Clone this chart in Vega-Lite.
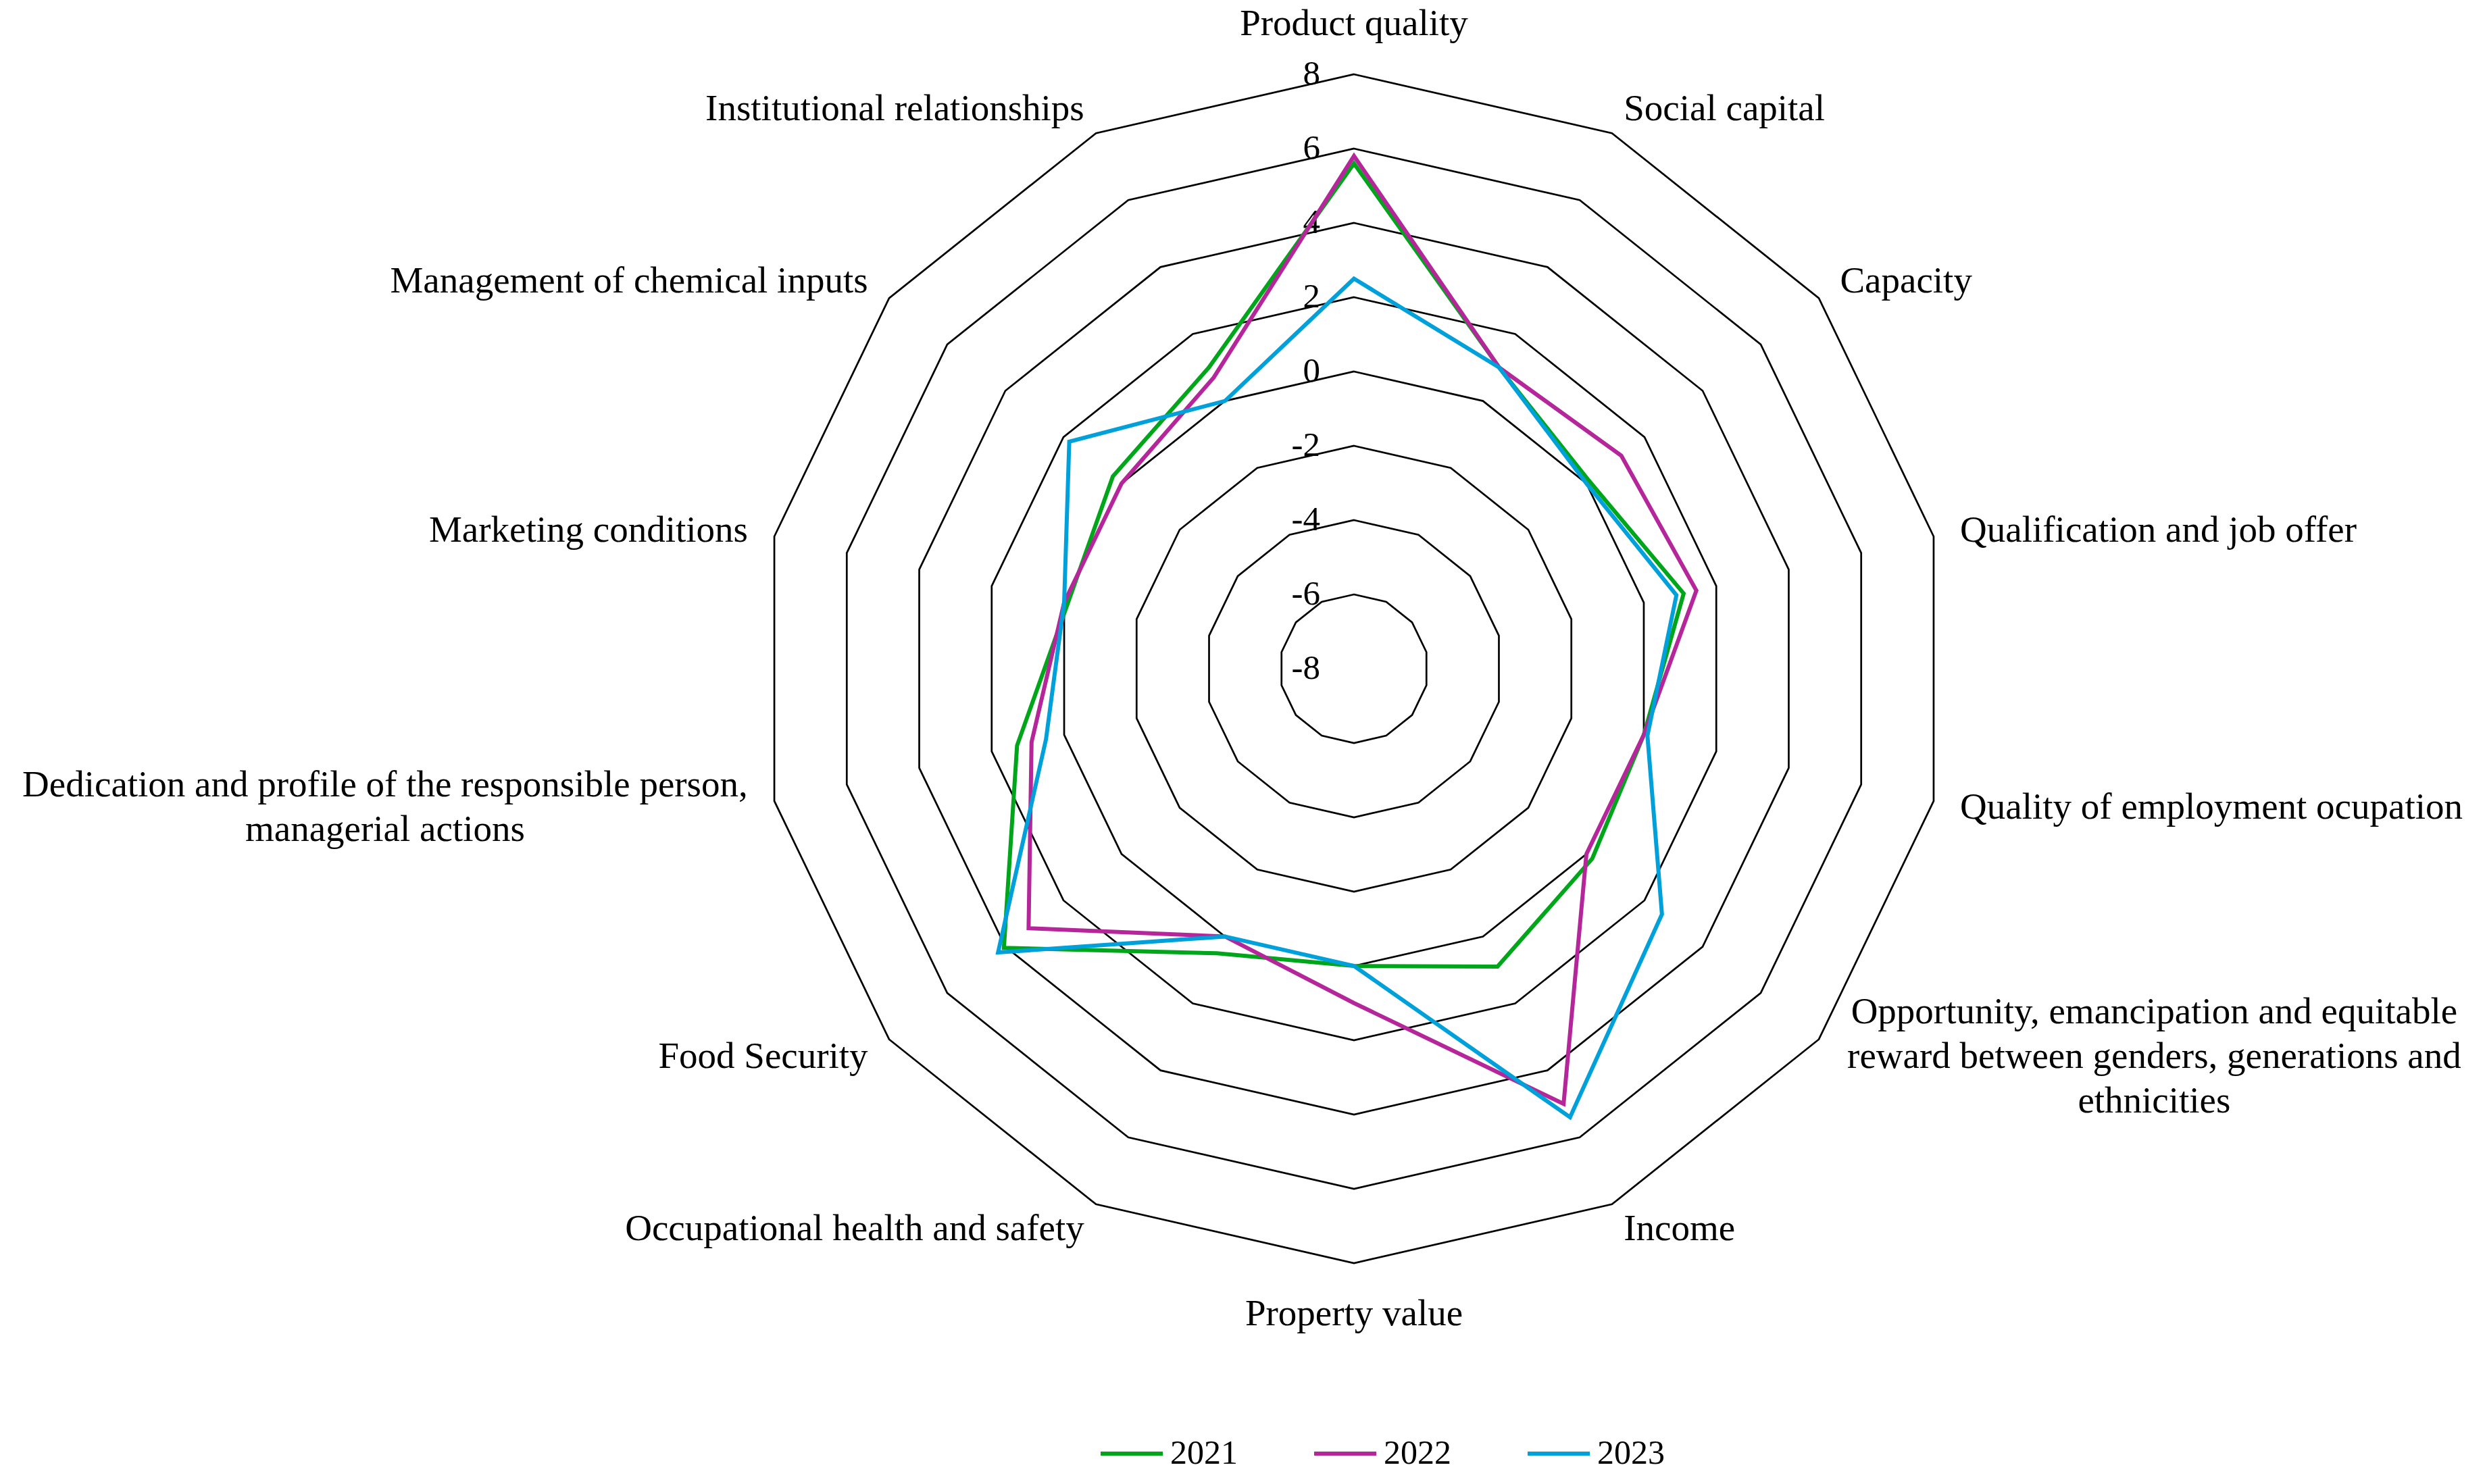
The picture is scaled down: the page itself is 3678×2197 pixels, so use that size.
{
  "$schema": "https://vega.github.io/schema/vega-lite/v6.json",
  "width": 3678,
  "height": 2197,
  "padding": 0,
  "autosize": {"type": "none"},
  "background": "white",
  "config": {"view": {"stroke": null}, "font": "Liberation Serif"},
  "datasets": {
    "scores": [
      {"idx": 0, "dimension": "Product quality", "2021": 5.6, "2022": 5.8, "2023": 2.5},
      {"idx": 1, "dimension": "Social capital", "2021": 1.0, "2022": 1.0, "2023": 1.0},
      {"idx": 2, "dimension": "Capacity", "2021": 0.1, "2022": 1.2, "2023": 0.0},
      {"idx": 3, "dimension": "Qualification and job offer", "2021": 1.1, "2022": 1.45, "2023": 0.9},
      {"idx": 4, "dimension": "Quality of employment ocupation", "2021": 0.0, "2022": 0.0, "2023": 0.1},
      {"idx": 5, "dimension": "Opportunity, emancipation and equitable\nreward between genders, generations and\nethnicities", "2021": 0.2, "2022": 0.0, "2023": 2.6},
      {"idx": 6, "dimension": "Income", "2021": 0.9, "2022": 5.0, "2023": 5.4},
      {"idx": 7, "dimension": "Property value", "2021": 0.0, "2022": 1.0, "2023": 0.0},
      {"idx": 8, "dimension": "Occupational health and safety", "2021": 0.5, "2022": 0.0, "2023": 0.0},
      {"idx": 9, "dimension": "Food Security", "2021": 4.05, "2022": 3.2, "2023": 4.25},
      {"idx": 10, "dimension": "Dedication and profile of the responsible person,\nmanagerial actions", "2021": 1.3, "2022": 0.9, "2023": 0.5},
      {"idx": 11, "dimension": "Marketing conditions", "2021": -0.1, "2022": 0.0, "2023": 0.0},
      {"idx": 12, "dimension": "Management of chemical inputs", "2021": 0.3, "2022": 0.0, "2023": 1.8},
      {"idx": 13, "dimension": "Institutional relationships", "2021": 1.0, "2022": 0.7, "2023": 0.0}
    ],
    "levels": [
      {"level": -8, "spoke": [0,1,2,3,4,5,6,7,8,9,10,11,12,13]},
      {"level": -6, "spoke": [0,1,2,3,4,5,6,7,8,9,10,11,12,13]},
      {"level": -4, "spoke": [0,1,2,3,4,5,6,7,8,9,10,11,12,13]},
      {"level": -2, "spoke": [0,1,2,3,4,5,6,7,8,9,10,11,12,13]},
      {"level": 0, "spoke": [0,1,2,3,4,5,6,7,8,9,10,11,12,13]},
      {"level": 2, "spoke": [0,1,2,3,4,5,6,7,8,9,10,11,12,13]},
      {"level": 4, "spoke": [0,1,2,3,4,5,6,7,8,9,10,11,12,13]},
      {"level": 6, "spoke": [0,1,2,3,4,5,6,7,8,9,10,11,12,13]},
      {"level": 8, "spoke": [0,1,2,3,4,5,6,7,8,9,10,11,12,13]}
    ]
  },
  "layer": [
    {
      "data": {"name": "levels"},
      "transform": [
        {"filter": "datum.level > -8"},
        {"flatten": ["spoke"]},
        {"calculate": "(datum.level + 8) * sin(datum.spoke * PI / 7)", "as": "px"},
        {"calculate": "(datum.level + 8) * cos(datum.spoke * PI / 7)", "as": "py"}
      ],
      "mark": {"type": "line", "interpolate": "linear-closed", "stroke": "black", "strokeWidth": 2.7},
      "encoding": {
        "x": {"field": "px", "type": "quantitative", "scale": {"domain": [-36.436, 30.436], "nice": false, "zero": false}, "axis": null},
        "y": {"field": "py", "type": "quantitative", "scale": {"domain": [-21.945, 18.0], "nice": false, "zero": false}, "axis": null},
        "detail": {"field": "level", "type": "nominal"},
        "order": {"field": "spoke", "type": "quantitative"}
      }
    },
    {
      "data": {"name": "levels"},
      "transform": [
        {"calculate": "0", "as": "px"},
        {"calculate": "datum.level + 8", "as": "py"}
      ],
      "mark": {"type": "text", "align": "right", "baseline": "middle", "dx": -50, "fontSize": 51, "font": "Liberation Serif", "color": "black"},
      "encoding": {
        "x": {"field": "px", "type": "quantitative", "scale": {"domain": [-36.436, 30.436], "nice": false, "zero": false}, "axis": null},
        "y": {"field": "py", "type": "quantitative", "scale": {"domain": [-21.945, 18.0], "nice": false, "zero": false}, "axis": null},
        "text": {"field": "level", "type": "nominal"}
      }
    },
    {
      "data": {"name": "scores"},
      "transform": [
        {"fold": ["2021", "2022", "2023"], "as": ["year", "value"]},
        {"calculate": "(datum.value + 8) * sin(datum.idx * PI / 7)", "as": "px"},
        {"calculate": "(datum.value + 8) * cos(datum.idx * PI / 7)", "as": "py"}
      ],
      "mark": {"type": "line", "interpolate": "linear-closed", "strokeWidth": 6},
      "encoding": {
        "x": {"field": "px", "type": "quantitative", "scale": {"domain": [-36.436, 30.436], "nice": false, "zero": false}, "axis": null},
        "y": {"field": "py", "type": "quantitative", "scale": {"domain": [-21.945, 18.0], "nice": false, "zero": false}, "axis": null},
        "color": {
          "field": "year", "type": "nominal",
          "scale": {"domain": ["2021", "2022", "2023"], "range": ["#00A61A", "#B5269A", "#00A1DB"]},
          "legend": {
            "title": null, "orient": "none", "legendX": 1626, "legendY": 2103,
            "direction": "horizontal", "columns": 3, "symbolType": "stroke",
            "symbolSize": 8464, "symbolStrokeWidth": 6, "labelFontSize": 50,
            "labelFont": "Liberation Serif", "labelColor": "black", "labelOffset": 8,
            "columnPadding": 101, "padding": 0
          }
        },
        "order": {"field": "idx", "type": "quantitative"}
      }
    },
    {
      "data": {"name": "scores"},
      "transform": [
        {"filter": "datum.idx == 0 || datum.idx == 7"},
        {"calculate": "17.36 * sin(datum.idx * PI / 7)", "as": "px"},
        {"calculate": "17.36 * cos(datum.idx * PI / 7)", "as": "py"}
      ],
      "mark": {"type": "text", "align": "center", "baseline": "middle", "fontSize": 55, "font": "Liberation Serif", "color": "black"},
      "encoding": {
        "x": {"field": "px", "type": "quantitative", "scale": {"domain": [-36.436, 30.436], "nice": false, "zero": false}, "axis": null},
        "y": {"field": "py", "type": "quantitative", "scale": {"domain": [-21.945, 18.0], "nice": false, "zero": false}, "axis": null},
        "text": {"field": "dimension", "type": "nominal"}
      }
    },
    {
      "data": {"name": "scores"},
      "transform": [
        {"filter": "datum.idx >= 1 && datum.idx <= 6 && datum.idx != 5"},
        {"calculate": "16.73 * sin(datum.idx * PI / 7)", "as": "px"},
        {"calculate": "16.73 * cos(datum.idx * PI / 7)", "as": "py"}
      ],
      "mark": {"type": "text", "align": "left", "baseline": "middle", "fontSize": 55, "font": "Liberation Serif", "color": "black"},
      "encoding": {
        "x": {"field": "px", "type": "quantitative", "scale": {"domain": [-36.436, 30.436], "nice": false, "zero": false}, "axis": null},
        "y": {"field": "py", "type": "quantitative", "scale": {"domain": [-21.945, 18.0], "nice": false, "zero": false}, "axis": null},
        "text": {"field": "dimension", "type": "nominal"}
      }
    },
    {
      "data": {"name": "scores"},
      "transform": [
        {"filter": "datum.idx == 5"},
        {"calculate": "16.73 * sin(datum.idx * PI / 7)", "as": "px"},
        {"calculate": "16.73 * cos(datum.idx * PI / 7)", "as": "py"}
      ],
      "mark": {"type": "text", "align": "center", "baseline": "middle", "dx": 465, "dy": -66, "fontSize": 55, "lineHeight": 66, "lineBreak": "\n", "font": "Liberation Serif", "color": "black"},
      "encoding": {
        "x": {"field": "px", "type": "quantitative", "scale": {"domain": [-36.436, 30.436], "nice": false, "zero": false}, "axis": null},
        "y": {"field": "py", "type": "quantitative", "scale": {"domain": [-21.945, 18.0], "nice": false, "zero": false}, "axis": null},
        "text": {"field": "dimension", "type": "nominal"}
      }
    },
    {
      "data": {"name": "scores"},
      "transform": [
        {"filter": "datum.idx >= 8 && datum.idx != 10"},
        {"calculate": "16.73 * sin(datum.idx * PI / 7)", "as": "px"},
        {"calculate": "16.73 * cos(datum.idx * PI / 7)", "as": "py"}
      ],
      "mark": {"type": "text", "align": "right", "baseline": "middle", "fontSize": 55, "font": "Liberation Serif", "color": "black"},
      "encoding": {
        "x": {"field": "px", "type": "quantitative", "scale": {"domain": [-36.436, 30.436], "nice": false, "zero": false}, "axis": null},
        "y": {"field": "py", "type": "quantitative", "scale": {"domain": [-21.945, 18.0], "nice": false, "zero": false}, "axis": null},
        "text": {"field": "dimension", "type": "nominal"}
      }
    },
    {
      "data": {"name": "scores"},
      "transform": [
        {"filter": "datum.idx == 10"},
        {"calculate": "16.73 * sin(datum.idx * PI / 7)", "as": "px"},
        {"calculate": "16.73 * cos(datum.idx * PI / 7)", "as": "py"}
      ],
      "mark": {"type": "text", "align": "center", "baseline": "middle", "dx": -537, "dy": -33, "fontSize": 55, "lineHeight": 66, "lineBreak": "\n", "font": "Liberation Serif", "color": "black"},
      "encoding": {
        "x": {"field": "px", "type": "quantitative", "scale": {"domain": [-36.436, 30.436], "nice": false, "zero": false}, "axis": null},
        "y": {"field": "py", "type": "quantitative", "scale": {"domain": [-21.945, 18.0], "nice": false, "zero": false}, "axis": null},
        "text": {"field": "dimension", "type": "nominal"}
      }
    }
  ]
}
